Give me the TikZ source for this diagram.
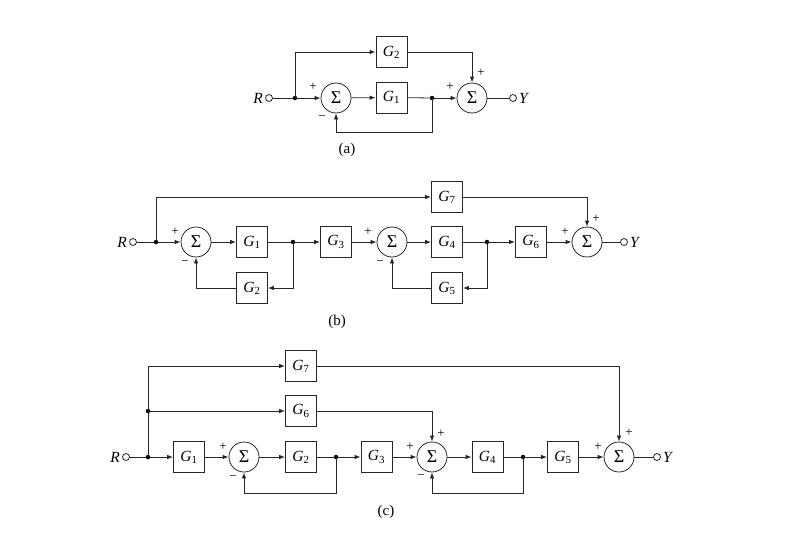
\documentclass[tikz,border=0pt]{standalone}
\usepackage{fontspec}
\setmainfont{Liberation Serif}
\usetikzlibrary{arrows.meta,calc}
\newcommand{\Gs}[1]{\textit{G}\textsubscript{#1}}
\begin{document}
\begin{tikzpicture}[x=1pt,y=-1pt,
  every node/.style={font=\fontsize{15.5}{15.5}\selectfont},
  line/.style={draw=black!85, line width=0.8pt},
  blk/.style={draw=black!85, line width=0.8pt, minimum width=31pt, minimum height=31pt, inner sep=0pt},
  sumc/.style={circle, draw=black!85, line width=0.8pt, minimum size=30pt, inner sep=0pt, font=\fontsize{18}{18}\selectfont},
  dot/.style={circle, fill=black, inner sep=0pt, minimum size=4.5pt},
  term/.style={circle, draw=black!85, fill=white, line width=0.8pt, minimum size=7pt, inner sep=0pt},
  arr/.style={line, -{Latex[length=6pt,width=4.5pt]}},
  sgn/.style={font=\fontsize{13}{13}\selectfont, inner sep=0pt},
  captxt/.style={font=\fontsize{15}{15}\selectfont}]
\useasboundingbox (0,0) rectangle (789,535);

% ---------- (a) ----------
\node[term] (aR) at (269,98) {};
\node[anchor=east, inner sep=2pt] (aRl) at (aR.west) {\textit{R}};
\node[dot] (aj1) at (295,98) {};
\node[sumc] (as1) at (336,98) {Σ};
\node[blk] (aG1) at (391.5,97.5) {\Gs{1}};
\node[blk] (aG2) at (391.5,52) {\Gs{2}};
\node[dot] (aj2) at (432,98) {};
\node[sumc] (as2) at (472,98) {Σ};
\node[term] (aY) at (513,98) {};
\node[anchor=west, inner sep=2pt] (aYl) at (aY.east) {\textit{Y}};
\coordinate (afb) at (432,132);
\draw[line] (aR) -- (aj1);
\draw[arr] (aj1) -- (as1);
\draw[arr] (as1) -- (aG1);
\draw[line] (aG1) -- (aj2);
\draw[arr] (aj2) -- (as2);
\draw[line] (as2) -- (aY);
\draw[arr] (aj1.center) |- (aG2);
\draw[arr] (aG2) -| (as2);
\draw[arr] (aj2.center) -- (afb) -| (as1);
\node[sgn] (ap1) at (313,87) {+};
\node[sgn] (am1) at (322,118) {−};
\node[sgn] (ap2) at (450,87) {+};
\node[sgn] (ap3) at (481,73) {+};
\node[captxt] (alab) at (347,150) {(a)};

% ---------- (b) ----------
\node[term] (bR) at (133,242) {};
\node[anchor=east, inner sep=2pt] (bRl) at (bR.west) {\textit{R}};
\node[dot] (bj1) at (156,242) {};
\node[sumc] (bs1) at (196,242) {Σ};
\node[blk] (bG1) at (252,242) {\Gs{1}};
\node[dot] (bj2) at (293,242) {};
\node[blk] (bG3) at (336,242) {\Gs{3}};
\node[sumc] (bs2) at (392,242) {Σ};
\node[blk] (bG4) at (447,242) {\Gs{4}};
\node[dot] (bj3) at (487,242) {};
\node[blk] (bG6) at (531,242) {\Gs{6}};
\node[sumc] (bs3) at (587,242) {Σ};
\node[term] (bY) at (624,242) {};
\node[anchor=west, inner sep=2pt] (bYl) at (bY.east) {\textit{Y}};
\node[blk] (bG7) at (447,197) {\Gs{7}};
\node[blk] (bG2) at (252,288) {\Gs{2}};
\node[blk] (bG5) at (447,288) {\Gs{5}};
\draw[line] (bR) -- (bj1);
\draw[arr] (bj1) -- (bs1);
\draw[arr] (bs1) -- (bG1);
\draw[line] (bG1) -- (bj2);
\draw[arr] (bj2) -- (bG3);
\draw[arr] (bG3) -- (bs2);
\draw[arr] (bs2) -- (bG4);
\draw[line] (bG4) -- (bj3);
\draw[arr] (bj3) -- (bG6);
\draw[arr] (bG6) -- (bs3);
\draw[line] (bs3) -- (bY);
\draw[arr] (bj1.center) |- (bG7);
\draw[arr] (bG7) -| (bs3);
\draw[arr] (bj2.center) |- (bG2);
\draw[arr] (bG2) -| (bs1);
\draw[arr] (bj3.center) |- (bG5);
\draw[arr] (bG5) -| (bs2);
\node[sgn] (bp1) at (175,232) {+};
\node[sgn] (bm1) at (185,263) {−};
\node[sgn] (bp2) at (368,232) {+};
\node[sgn] (bm2) at (380,263) {−};
\node[sgn] (bp3) at (565,232) {+};
\node[sgn] (bp4) at (596,219) {+};
\node[captxt] (blab) at (337,322) {(b)};

% ---------- (c) ----------
\node[term] (cR) at (126,457) {};
\node[anchor=east, inner sep=2pt] (cRl) at (cR.west) {\textit{R}};
\node[dot] (cj1) at (148,457) {};
\node[dot] (cj0) at (148,411) {};
\node[blk] (cG7) at (301,366) {\Gs{7}};
\node[blk] (cG6) at (301,411) {\Gs{6}};
\node[blk] (cG1) at (189,457) {\Gs{1}};
\node[sumc] (cs1) at (244,457) {Σ};
\node[blk] (cG2) at (301,457) {\Gs{2}};
\node[dot] (cj2) at (336,457) {};
\node[blk] (cG3) at (376.5,457) {\Gs{3}};
\node[sumc] (cs2) at (432,457) {Σ};
\node[blk] (cG4) at (487.5,457) {\Gs{4}};
\node[dot] (cj3) at (523,457) {};
\node[blk] (cG5) at (563,457) {\Gs{5}};
\node[sumc] (cs3) at (619,457) {Σ};
\node[term] (cY) at (657,457) {};
\node[anchor=west, inner sep=2pt] (cYl) at (cY.east) {\textit{Y}};
\coordinate (cfb1) at (336,493);
\coordinate (cfb2) at (523,493);
\draw[line] (cR) -- (cj1);
\draw[line] (cj1.center) -- (cj0.center);
\draw[arr] (cj0.center) |- (cG7);
\draw[arr] (cj0) -- (cG6);
\draw[arr] (cj1) -- (cG1);
\draw[arr] (cG1) -- (cs1);
\draw[arr] (cs1) -- (cG2);
\draw[line] (cG2) -- (cj2);
\draw[arr] (cj2) -- (cG3);
\draw[arr] (cG3) -- (cs2);
\draw[arr] (cs2) -- (cG4);
\draw[line] (cG4) -- (cj3);
\draw[arr] (cj3) -- (cG5);
\draw[arr] (cG5) -- (cs3);
\draw[line] (cs3) -- (cY);
\draw[arr] (cG6) -| (cs2);
\draw[arr] (cG7) -| (cs3);
\draw[arr] (cj2.center) -- (cfb1) -| (cs1);
\draw[arr] (cj3.center) -- (cfb2) -| (cs2);
\node[sgn] (cp1) at (223,447) {+};
\node[sgn] (cm1) at (233,478) {−};
\node[sgn] (cp2) at (410,447) {+};
\node[sgn] (cp3) at (441,434) {+};
\node[sgn] (cm2) at (421,477) {−};
\node[sgn] (cp4) at (598,447) {+};
\node[sgn] (cp5) at (629,433) {+};
\node[captxt] (clab) at (386,512) {(c)};
\end{tikzpicture}
\end{document}
